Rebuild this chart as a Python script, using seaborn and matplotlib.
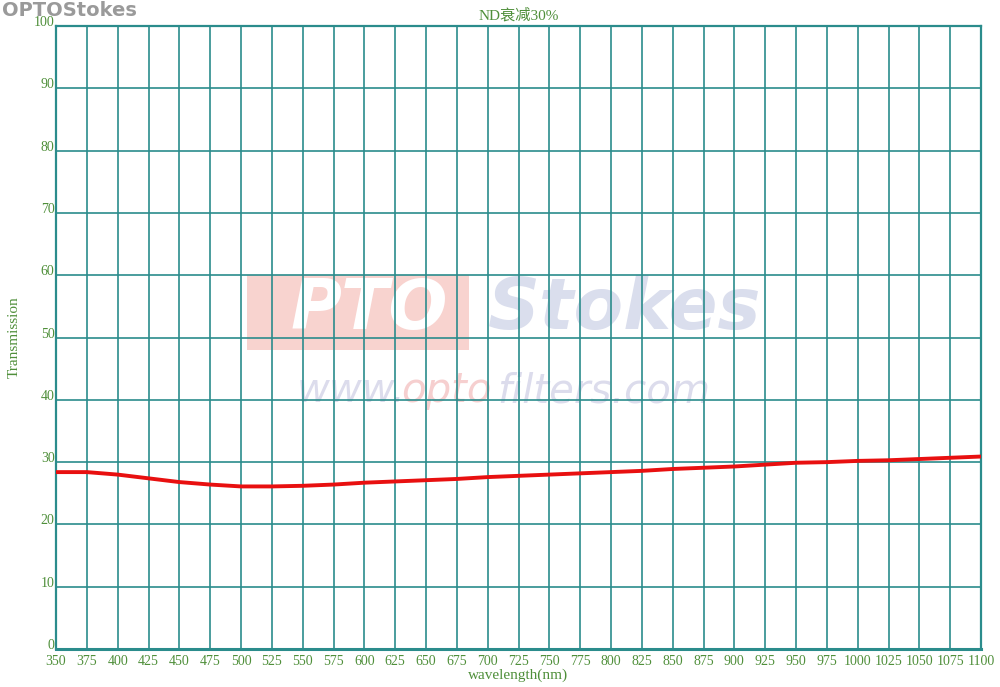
import pandas as pd
import numpy as np
import matplotlib.pyplot as plt
import seaborn as sns

# transmission curve
wavelength = [350, 375, 400, 425, 450, 475, 500, 525, 550, 575, 600, 625, 650,
              675, 700, 725, 750, 775, 800, 825, 850, 875, 900, 925, 950, 975,
              1000, 1025, 1050, 1075, 1100]
transmission = [28.4, 28.4, 28.0, 27.4, 26.8, 26.4, 26.1, 26.1, 26.2, 26.4, 26.7,
                26.9, 27.1, 27.3, 27.6, 27.8, 28.0, 28.2, 28.4, 28.6, 28.9, 29.1,
                29.3, 29.6, 29.9, 30.0, 30.2, 30.3, 30.5, 30.7, 30.9]
x_ticks = list(range(350, 1101, 25))
y_ticks = list(range(0, 101, 10))

sns.set_theme(style="white")
plt.rcParams['font.family'] = ['Liberation Serif', 'Noto Sans CJK SC', 'DejaVu Sans']

grid_col = '#2b8c8c'
txt_col = '#4f8f3a'

fig = plt.figure(figsize=[10, 6.87], dpi=100)
ax = fig.add_axes([0.056, 0.0553, 0.925, 0.9067])

df = pd.DataFrame({'wavelength': wavelength, 'transmission': transmission})

# watermark
fig.text(0.002, 0.999, 'OPTOStokes', fontsize=14, fontweight='bold', color='#9a9a9a',
         family=['DejaVu Sans'], va='top', ha='left')
ax.add_patch(plt.Rectangle((505, 48), 180, 12, color='#f4b6b0', alpha=0.6, zorder=0, lw=0))
ax.text(540, 54.5, 'PTO', fontsize=50, fontweight='bold', fontstyle='italic', color='white',
        family=['DejaVu Sans'], ha='left', va='center', zorder=0.5)
ax.text(700, 54.5, 'Stokes', fontsize=52, fontweight='bold', fontstyle='italic', color='#dadeed',
        family=['DejaVu Sans'], ha='left', va='center', zorder=0.5)
ax.text(545, 41.5, 'www.', fontsize=29, fontstyle='italic', color='#dcdcec',
        family=['DejaVu Sans'], ha='left', va='center', zorder=0.5)
ax.text(630, 41.5, 'opto', fontsize=29, fontstyle='italic', color='#f6cfcf',
        family=['DejaVu Sans'], ha='left', va='center', zorder=0.5)
ax.text(708, 41.5, 'filters.com', fontsize=29, fontstyle='italic', color='#dcdcec',
        family=['DejaVu Sans'], ha='left', va='center', zorder=0.5)

sns.lineplot(data=df, x='wavelength', y='transmission', color='#e81010', linewidth=2.8, ax=ax, zorder=3)

ax.set_xlim(350, 1100)
ax.set_ylim(0, 100)
ax.set_xticks(x_ticks)
ax.set_yticks(y_ticks)
ax.grid(True, color=grid_col, linewidth=1.2)
for s in ax.spines.values():
    s.set_color(grid_col)
    s.set_linewidth(1.6)
ax.spines['bottom'].set_linewidth(2.2)
ax.tick_params(axis='both', length=0, labelsize=10, labelcolor=txt_col)
ax.tick_params(axis='x', pad=4)
ax.tick_params(axis='y', pad=1)
for lbl in ax.get_yticklabels():
    lbl.set_verticalalignment('baseline')

ax.set_xlabel('wavelength(nm)', fontsize=11, color=txt_col, labelpad=1)
ax.set_ylabel('Transmission', fontsize=11, color=txt_col)
ax.yaxis.set_label_coords(-0.038, 0.5)
ax.set_title('ND衰减30%', fontsize=11, color=txt_col, pad=5)

plt.savefig('out.png', dpi=100)
